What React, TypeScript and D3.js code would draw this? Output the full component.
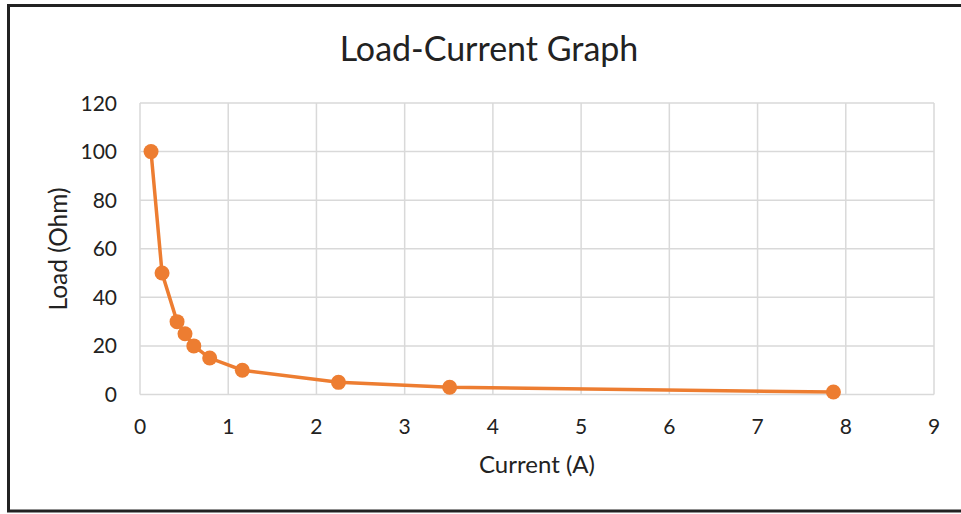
import React from "react";
import * as d3 from "d3";

const currents = [0.125, 0.25, 0.42, 0.51, 0.61, 0.79, 1.16, 2.25, 3.51, 7.86];
const loads = [100, 50, 30, 25, 20, 15, 10, 5, 3, 1];
const xTicks = [0, 1, 2, 3, 4, 5, 6, 7, 8, 9];
const yTicks = [0, 20, 40, 60, 80, 100, 120];

const W = 961;
const H = 514;
const FONT = "Lato, 'Open Sans', sans-serif";
const ORANGE = "#ED7D31";

export default function App() {
  const x = d3.scaleLinear().domain([0, 9]).range([140, 934]);
  const y = d3.scaleLinear().domain([0, 120]).range([394.5, 103]);
  const pts = currents.map((c, i) => [c, loads[i]] as [number, number]);
  const line = d3
    .line<[number, number]>()
    .x((d) => x(d[0]))
    .y((d) => y(d[1]));

  return (
    <svg
      width={W}
      height={H}
      style={{ position: "absolute", left: 0, top: 0, background: "#fff" }}
    >
      <rect x={0} y={0} width={W} height={H} fill="#fff" />
      <path
        d={`M${W + 5},5.5 H8.5 V511 H${W + 5}`}
        fill="none"
        stroke="#222"
        strokeWidth={3}
      />
      <text
        x={489}
        y={61}
        textAnchor="middle"
        fontFamily={FONT}
        fontSize={34}
        fill="#222"
      >
        Load-Current Graph
      </text>
      {yTicks.map((t) => (
        <g key={"y" + t}>
          <line
            x1={x(0)}
            x2={x(9)}
            y1={y(t)}
            y2={y(t)}
            stroke="#d9d9d9"
            strokeWidth={1.5}
          />
          <text
            x={117}
            y={y(t) + 7.5}
            textAnchor="end"
            fontFamily={FONT}
            fontSize={21}
            fill="#222"
          >
            {t}
          </text>
        </g>
      ))}
      {xTicks.map((t) => (
        <g key={"x" + t}>
          <line
            x1={x(t)}
            x2={x(t)}
            y1={y(0)}
            y2={y(120)}
            stroke="#d9d9d9"
            strokeWidth={1.5}
          />
          <text
            x={x(t)}
            y={434}
            textAnchor="middle"
            fontFamily={FONT}
            fontSize={21}
            fill="#222"
          >
            {t}
          </text>
        </g>
      ))}
      <text
        x={537}
        y={473}
        textAnchor="middle"
        fontFamily={FONT}
        fontSize={24}
        fill="#222"
      >
        Current (A)
      </text>
      <text
        transform="translate(67,249) rotate(-90)"
        textAnchor="middle"
        fontFamily={FONT}
        fontSize={24.5}
        fill="#222"
      >
        Load (Ohm)
      </text>
      <path d={line(pts) || ""} fill="none" stroke={ORANGE} strokeWidth={3.5} />
      {pts.map((p, i) => (
        <circle key={i} cx={x(p[0])} cy={y(p[1])} r={7.5} fill={ORANGE} />
      ))}
    </svg>
  );
}
